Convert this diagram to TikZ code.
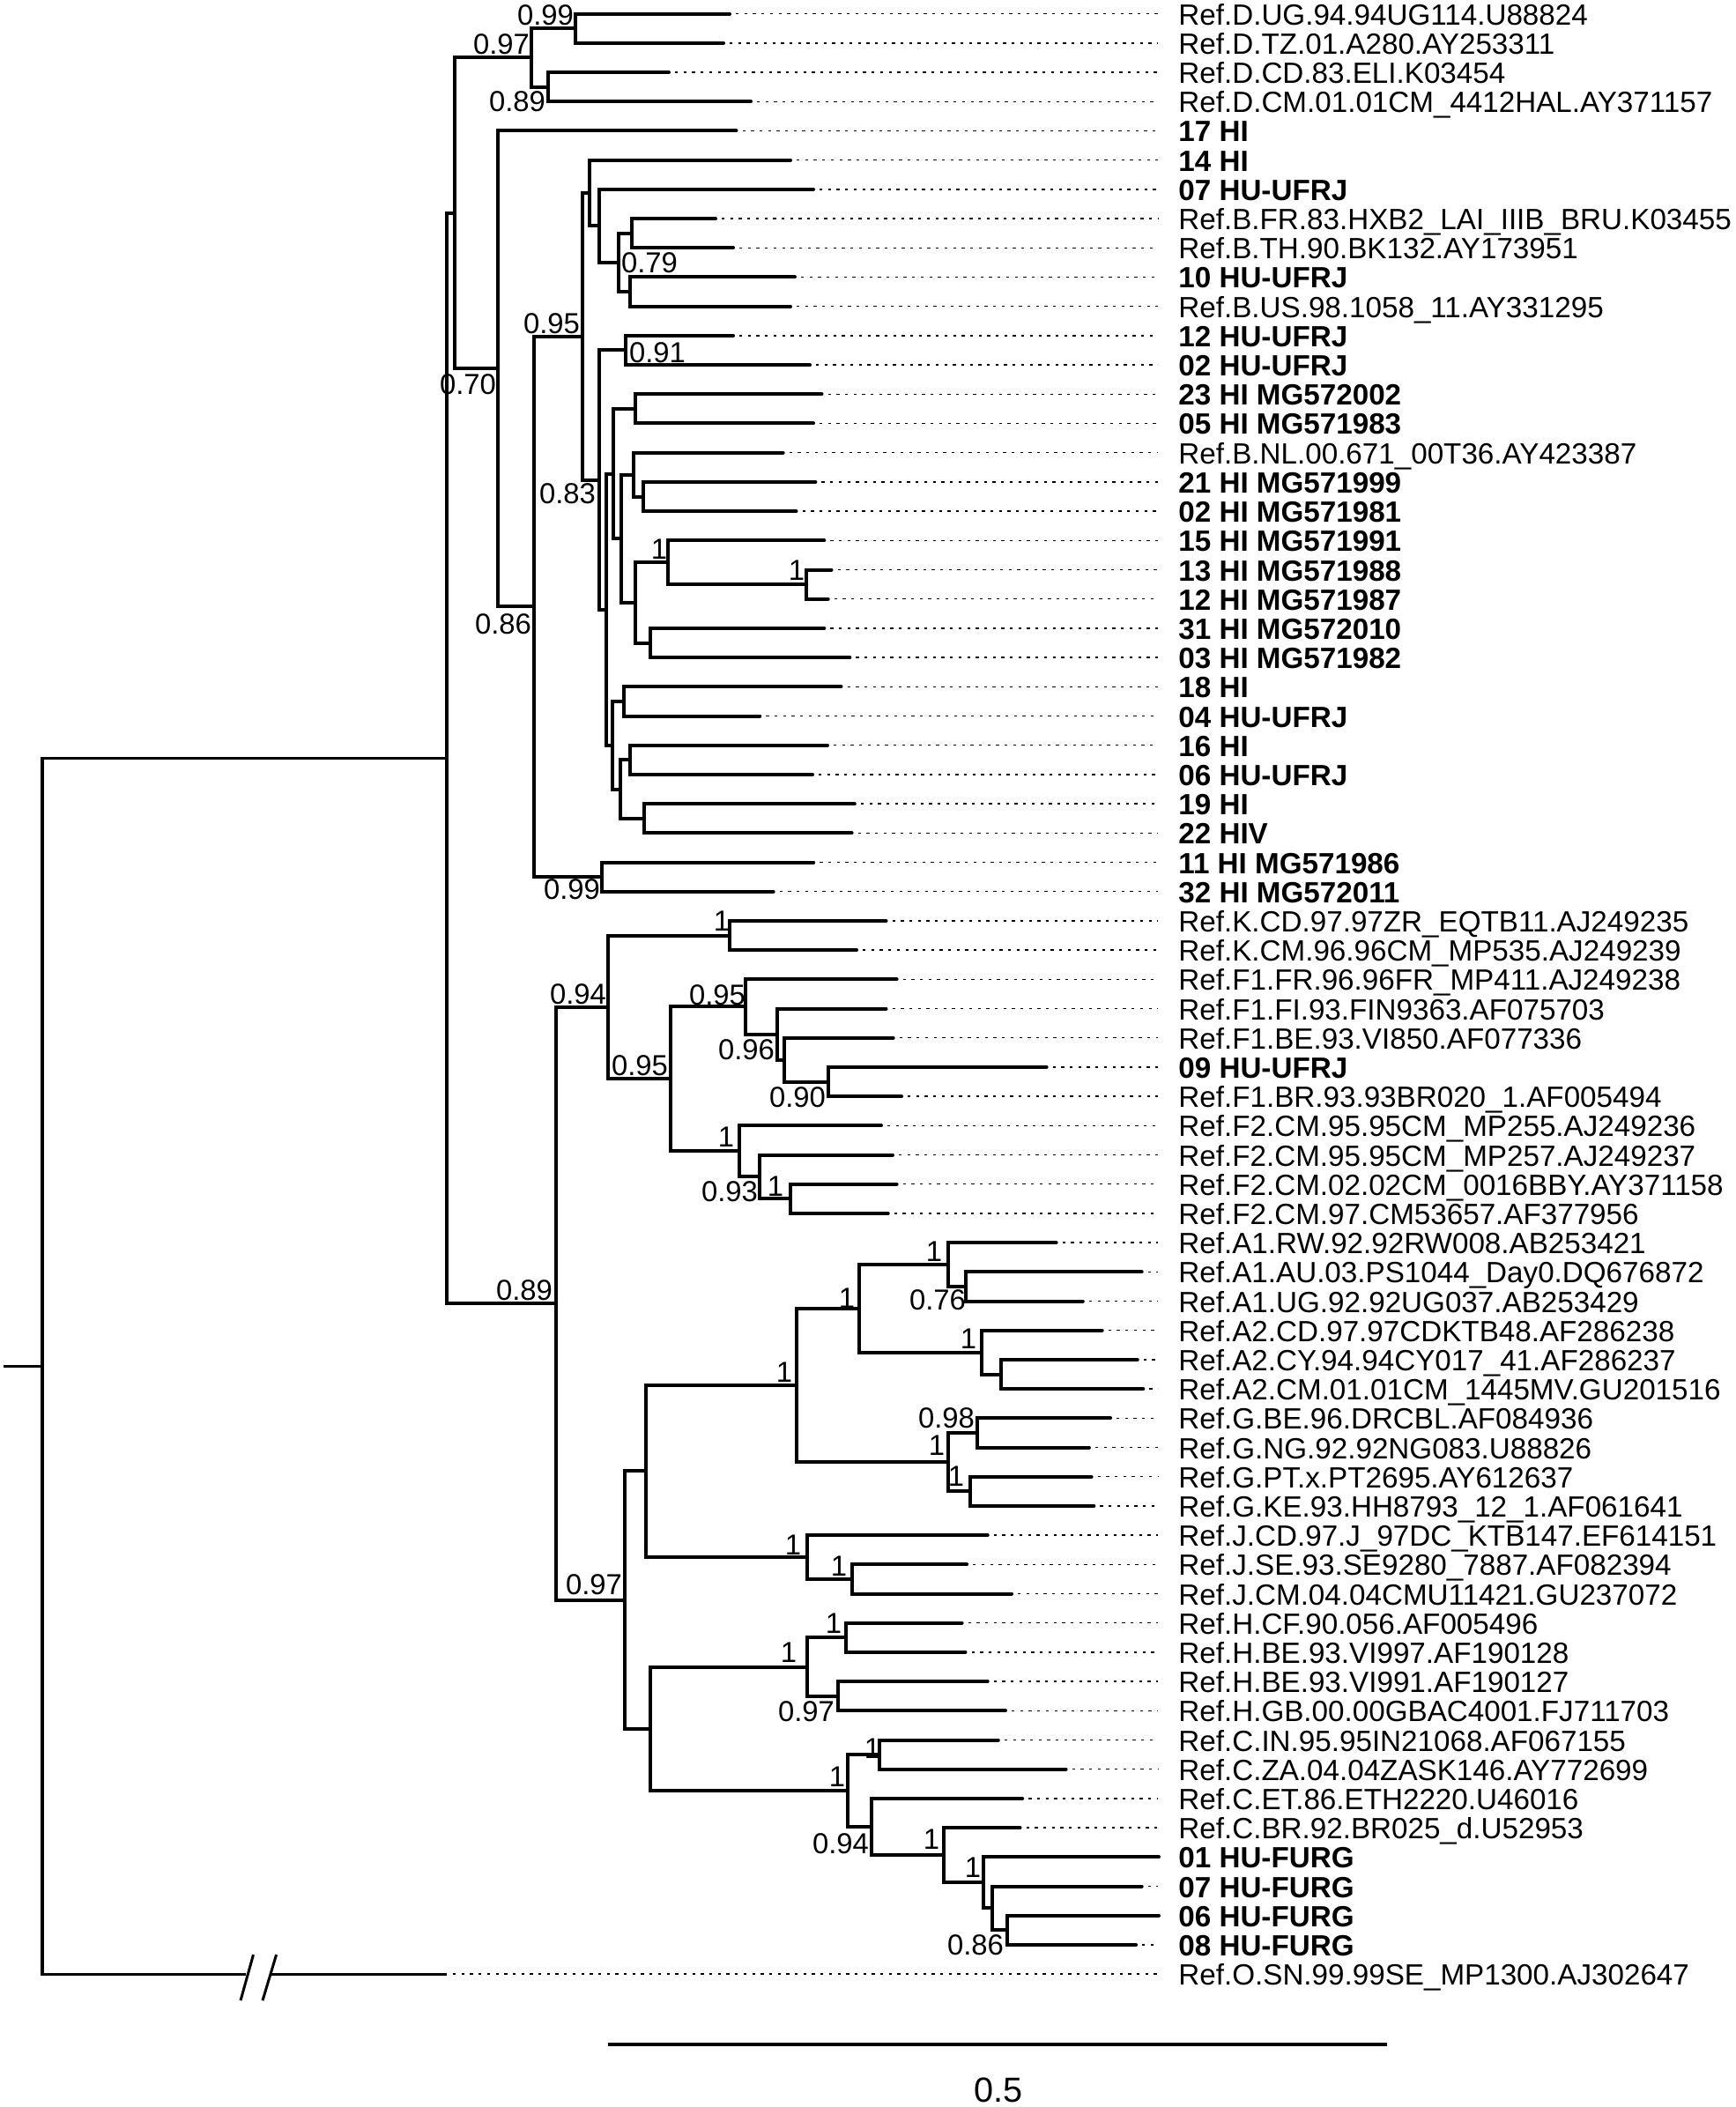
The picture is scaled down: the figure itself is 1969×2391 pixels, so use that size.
\documentclass[tikz,border=0pt]{standalone}
\usepackage{fontspec}
\setmainfont{Liberation Sans}
\usetikzlibrary{calc}
\newcommand\ry[1]{33.2*(#1)-17.5}
\begin{document}
\begin{tikzpicture}[x=0.5pt,y=-0.5pt,
  br/.style={line width=2pt, line cap=round},
  rt/.style={line width=1.6pt},
  dotl/.style={line width=0.7pt, dash pattern=on 1.65pt off 3.2pt},
  labn/.style={anchor=base west, inner sep=0pt, font=\fontsize{16.6}{19}\selectfont},
  labb/.style={anchor=base west, inner sep=0pt, font=\fontsize{16.6}{19}\selectfont\bfseries},
  sup/.style={inner sep=0pt, font=\fontsize{16.4}{19}\selectfont}]
\newcommand\inode[4]{%
  \coordinate (#1m) at ($(#3)!0.5!(#4)$);
  \coordinate (#1x) at (#2,0);
  \coordinate (#1) at (#1x |- #1m);
  \draw[br] (#1) |- (#3) (#1) |- (#4);}
\fill[white] (0,0) rectangle (1969,2391);
\useasboundingbox (0,0) rectangle (1969,2391);
\coordinate (dotend) at (1314,0);
% leaves
\foreach \k/\xe/\st/\txt in {
1/828/n/Ref.D.UG.94.94UG114.U88824,
2/821/n/Ref.D.TZ.01.A280.AY253311,
3/759/n/Ref.D.CD.83.ELI.K03454,
4/852/n/Ref.D.CM.01.01CM\_4412HAL.AY371157,
5/835.5/b/17 HI,
6/897/b/14 HI,
7/923/b/07 HU-UFRJ,
8/812/n/Ref.B.FR.83.HXB2\_LAI\_IIIB\_BRU.K03455,
9/832/n/Ref.B.TH.90.BK132.AY173951,
10/902/b/10 HU-UFRJ,
11/897/n/Ref.B.US.98.1058\_11.AY331295,
12/832/b/12 HU-UFRJ,
13/919/b/02 HU-UFRJ,
14/932.5/b/23 HI MG572002,
15/923/b/05 HI MG571983,
16/888.7/n/Ref.B.NL.00.671\_00T36.AY423387,
17/925.4/b/21 HI MG571999,
18/903.5/b/02 HI MG571981,
19/935.3/b/15 HI MG571991,
20/943.5/b/13 HI MG571988,
21/939.7/b/12 HI MG571987,
22/935.3/b/31 HI MG572010,
23/964.4/b/03 HI MG571982,
24/954.5/b/18 HI,
25/862.3/b/04 HU-UFRJ,
26/939/b/16 HI,
27/922/b/06 HU-UFRJ,
28/969.8/b/19 HI,
29/966.6/b/22 HIV,
30/923.2/b/11 HI MG571986,
31/877.7/b/32 HI MG572011,
32/1005.5/n/Ref.K.CD.97.97ZR\_EQTB11.AJ249235,
33/972/n/Ref.K.CM.96.96CM\_MP535.AJ249239,
34/1017.6/n/Ref.F1.FR.96.96FR\_MP411.AJ249238,
35/1005.5/n/Ref.F1.FI.93.FIN9363.AF075703,
36/1013.7/n/Ref.F1.BE.93.VI850.AF077336,
37/1187.6/b/09 HU-UFRJ,
38/1023/n/Ref.F1.BR.93.93BR020\_1.AF005494,
39/1000/n/Ref.F2.CM.95.95CM\_MP255.AJ249236,
40/1013/n/Ref.F2.CM.95.95CM\_MP257.AJ249237,
41/1017.6/n/Ref.F2.CM.02.02CM\_0016BBY.AY371158,
42/1007.7/n/Ref.F2.CM.97.CM53657.AF377956,
43/1198.6/n/Ref.A1.RW.92.92RW008.AB253421,
44/1295.7/n/Ref.A1.AU.03.PS1044\_Day0.DQ676872,
45/1228.8/n/Ref.A1.UG.92.92UG037.AB253429,
46/1250.7/n/Ref.A2.CD.97.97CDKTB48.AF286238,
47/1290.7/n/Ref.A2.CY.94.94CY017\_41.AF286237,
48/1297.3/n/Ref.A2.CM.01.01CM\_1445MV.GU201516,
49/1260/n/Ref.G.BE.96.DRCBL.AF084936,
50/1235.9/n/Ref.G.NG.92.92NG083.U88826,
51/1238.6/n/Ref.G.PT.x.PT2695.AY612637,
52/1241.4/n/Ref.G.KE.93.HH8793\_12\_1.AF061641,
53/1120.7/n/Ref.J.CD.97.J\_97DC\_KTB147.EF614151,
54/1097.1/n/Ref.J.SE.93.SE9280\_7887.AF082394,
55/1148.1/n/Ref.J.CM.04.04CMU11421.GU237072,
56/1091.6/n/Ref.H.CF.90.056.AF005496,
57/1095.5/n/Ref.H.BE.93.VI997.AF190128,
58/1120.7/n/Ref.H.BE.93.VI991.AF190127,
59/1141/n/Ref.H.GB.00.00GBAC4001.FJ711703,
60/1132.8/n/Ref.C.IN.95.95IN21068.AF067155,
61/1209.6/n/Ref.C.ZA.04.04ZASK146.AY772699,
62/1160.2/n/Ref.C.ET.86.ETH2220.U46016,
63/1157.5/n/Ref.C.BR.92.BR025\_d.U52953,
64/1315/b/01 HU-FURG,
65/1295.7/b/07 HU-FURG,
66/1315/b/06 HU-FURG,
67/1289.1/b/08 HU-FURG,
68/507/n/Ref.O.SN.99.99SE\_MP1300.AJ302647}{
  \coordinate (t\k) at (\xe,{\ry{\k}});
  \node[lab\st] (l\k) at (1337,{\ry{\k}+12.5}) {\txt};
  \ifdim\xe pt<1305pt
    \draw[dotl] ($(t\k)+(7,0)$) -- (t\k -| dotend);
  \fi
}
% upper clade
\inode{D99}{653}{t1}{t2}
\inode{D89}{621.5}{t3}{t4}
\inode{D97}{603}{D99}{D89}
\inode{K}{717}{t8}{t9}
\inode{L}{715}{t10}{t11}
\inode{J}{702}{K}{L}
\inode{I}{680}{t7}{J}
\inode{H}{669}{t6}{I}
\inode{N91}{710}{t12}{t13}
\inode{P}{721}{t14}{t15}
\inode{S}{730}{t17}{t18}
\inode{R}{719}{t16}{S}
\inode{V}{915}{t20}{t21}
\inode{U}{758}{t19}{V}
\inode{W}{738}{t22}{t23}
\inode{T}{721}{U}{W}
\inode{Q}{705}{R}{T}
\inode{O}{696}{P}{Q}
\inode{X1}{708}{t24}{t25}
\inode{X3}{715}{t26}{t27}
\inode{X4}{731}{t28}{t29}
\inode{X2}{704}{X3}{X4}
\inode{X0}{695}{X1}{X2}
\inode{N}{688}{O}{X0}
\inode{M}{680}{N91}{N}
\inode{F}{661}{H}{M}
\inode{G99}{683}{t30}{t31}
\inode{E}{606}{F}{G99}
\inode{C}{565}{t5}{E}
\inode{B}{515.6}{D97}{C}
% lower clade
\inode{Kc}{828}{t32}{t33}
\inode{F1d}{940}{t37}{t38}
\inode{F1c}{890}{t36}{F1d}
\inode{F1b}{882}{t35}{F1c}
\inode{F1a}{846}{t34}{F1b}
\inode{F2c}{897}{t41}{t42}
\inode{F2b}{862}{t40}{F2c}
\inode{F2}{839}{t39}{F2b}
\inode{Y2}{761}{F1a}{F2}
\inode{Y1}{690}{Kc}{Y2}
\inode{A1b}{1096}{t44}{t45}
\inode{A1}{1076}{t43}{A1b}
\inode{A2b}{1135.5}{t47}{t48}
\inode{A2}{1113.6}{t46}{A2b}
\inode{Aa}{975}{A1}{A2}
\inode{Ga}{1109}{t49}{t50}
\inode{Gb}{1101}{t51}{t52}
\inode{Gg}{1076}{Ga}{Gb}
\inode{AG}{903.5}{Aa}{Gg}
\inode{Jb}{967}{t54}{t55}
\inode{Jj}{916}{t53}{Jb}
\inode{AGJ}{733}{AG}{Jj}
\inode{Ha}{960}{t56}{t57}
\inode{Hb}{951}{t58}{t59}
\inode{Hh}{916}{Ha}{Hb}
\inode{Ca}{998}{t60}{t61}
\inode{Cf}{1142.6}{t66}{t67}
\inode{Ce}{1126}{t65}{Cf}
\inode{Cd}{1116}{t64}{Ce}
\inode{Cc}{1071}{t63}{Cd}
\inode{Cb}{989}{t62}{Cc}
\inode{Cn}{961.6}{Ca}{Cb}
\inode{HC}{738}{Hh}{Cn}
\inode{Y3}{709}{AGJ}{HC}
\inode{Z}{631}{Y1}{Y3}
\inode{Aroot}{507}{B}{Z}
% root
\coordinate (Rootm) at ($(Aroot)!0.5!(t68)$);
\coordinate (Rootx) at (48,0);
\coordinate (Root) at (Rootx |- Rootm);
\coordinate (stubx) at (4,0);
\coordinate (stub) at (stubx |- Root);
\coordinate (brkA) at (278.6,{\ry{68}});
\coordinate (brkB) at (308,{\ry{68}});
\draw[rt] (stub) -- (Root);
\draw[rt] (Root) |- (Aroot);
\draw[rt] (Root) |- (brkA);
\draw[rt] (brkB) -- (t68);
\coordinate (sl1a) at (273,{\ry{68}+30});
\coordinate (sl1b) at (287.5,{\ry{68}-22});
\coordinate (sl2a) at (298,{\ry{68}+30});
\coordinate (sl2b) at (313.6,{\ry{68}-22});
\draw[line width=1.5pt] (sl1a) -- (sl1b);
\draw[line width=1.5pt] (sl2a) -- (sl2b);
% support values
\foreach \i/\sx/\sy/\v in {
1/619/17/0.99, 2/569/50/0.97, 3/587/115/0.89, 4/737/298/0.79,
5/626/367/0.95, 6/746/400/0.91, 7/531/436/0.70, 8/644/560/0.83,
9/748/623/1, 10/904/647/1, 11/571/708/0.86, 12/649/1009/0.99,
13/819/1045/1, 14/656/1128/0.94, 15/814/1129/0.95, 16/847/1191/0.96,
17/726/1209/0.95, 18/905/1245/0.90, 19/824/1290/1, 20/828/1352/0.93,
21/880/1346/1, 22/595/1464/0.89, 23/890/1557/1, 24/961/1473/1,
25/1060/1420/1, 26/1064/1475/0.76, 27/1099/1519/1, 28/1074/1609/0.98,
29/1063/1640/1, 30/1085/1675/1, 31/900/1753/1, 32/952/1777/1,
33/674/1798/0.97, 34/946/1842/1, 35/895/1875/1, 36/915/1942/0.97,
37/990/1984/1, 38/950/2016/1, 39/954/2092/0.94, 40/1057/2087/1,
41/1104/2119/1, 42/1107/2207/0.86}{
  \node[sup] (s\i) at (\sx,\sy) {\v};
}
% scale bar
\coordinate (sb1) at (690,2320);
\coordinate (sb2) at (1574,2320);
\draw[line width=1.7pt] (sb1) -- (sb2);
\node[inner sep=0pt, font=\fontsize{19.8}{23}\selectfont] (sbl) at (1133,2372) {0.5};
\end{tikzpicture}
\end{document}
